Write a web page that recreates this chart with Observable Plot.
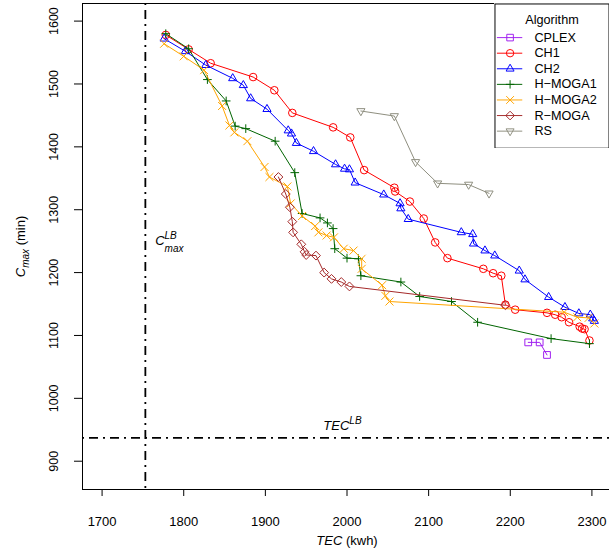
<!DOCTYPE html>
<html><head><meta charset="utf-8">
<script src="https://cdn.jsdelivr.net/npm/d3@7"></script>
<script src="https://cdn.jsdelivr.net/npm/@observablehq/plot@0.6"></script>
<style>
html,body{margin:0;padding:0;background:#fff;overflow:hidden;}
#wrap{position:relative;width:609px;height:552px;overflow:hidden;}
#legend{position:absolute;left:494px;top:3px;}
</style></head><body><div id="wrap"><div id="chart"></div><div id="legend"></div></div>
<script>
// ---- data ----
const algorithms = ["CPLEX","CH1","CH2","H-MOGA1","H-MOGA2","R-MOGA","RS"];
const legendLabels = ["CPLEX","CH1","CH2","H\u2212MOGA1","H\u2212MOGA2","R\u2212MOGA","RS"];
const xTicks = [1700,1800,1900,2000,2100,2200,2300];
const yTicks = [900,1000,1100,1200,1300,1400,1500,1600];
const tecLB = 1753;
const cmaxLB = 937;

const cplexTEC  = [2222, 2236, 2245];
const cplexCmax = [1089, 1089, 1069];

const ch1TEC  = [1778,1806,1833,1885,1911,1933,1983,2004,2021,2058,2059,2077,2094,2108,2123,2167,2179,2189,2194,2206,2245,2255,2263,2272,2285,2288,2291,2297];
const ch1Cmax = [1578,1555,1533,1511,1490,1454,1431,1415,1363,1335,1329,1313,1286,1248,1223,1206,1199,1195,1149,1141,1136,1133,1129,1121,1114,1111,1110,1092];

const ch2TEC  = [1776,1802,1827,1860,1873,1882,1902,1928,1932,1938,1959,1986,1997,2003,2010,2045,2065,2066,2075,2140,2154,2155,2169,2181,2211,2218,2247,2267,2284,2298,2301,2303];
const ch2Cmax = [1572,1552,1530,1509,1498,1477,1460,1426,1421,1406,1393,1372,1365,1364,1343,1324,1310,1302,1285,1264,1261,1246,1235,1227,1203,1189,1161,1145,1135,1133,1127,1123];

const hmoga1TEC  = [1778,1806,1829,1852,1863,1876,1912,1936,1945,1967,1976,1983,1985,2000,2014,2017,2066,2089,2128,2160,2250,2297];
const hmoga1Cmax = [1580,1556,1507,1473,1433,1429,1409,1359,1294,1287,1279,1270,1238,1223,1222,1195,1185,1162,1154,1121,1095,1087];

const hmoga2TEC  = [1776,1800,1825,1847,1856,1862,1878,1899,1905,1927,1931,1945,1961,1965,1975,1984,1996,2008,2018,2018,2043,2047,2052,2266,2282,2296,2303];
const hmoga2Cmax = [1564,1544,1522,1465,1434,1423,1409,1368,1352,1337,1310,1290,1274,1264,1259,1256,1238,1235,1222,1206,1180,1163,1154,1137,1129,1128,1119];

const rmogaTEC  = [1916,1925,1930,1933,1934,1944,1948,1950,1962,1972,1981,1993,2003,2194];
const rmogaCmax = [1352,1325,1304,1281,1264,1245,1233,1228,1227,1200,1190,1185,1178,1148];

const rsTEC  = [2017,2058,2084,2111,2149,2174];
const rsCmax = [1457,1449,1376,1342,1340,1326];

// annotation anchors (data coordinates)
const cLabelPos = [{tec: 1765, cmax: 1250}];
const tecLabelPos = [{tec: 1971, cmax: 957}];

// ---- styles ----
const invTriangle = {
  draw(context, size) {
    const s = Math.sqrt(size) * 0.6824, t = s / 2, u = s * Math.sqrt(3) / 2;
    context.moveTo(0, s); context.lineTo(u, -t); context.lineTo(-u, -t); context.closePath();
  }
};
const style = {
  "CPLEX":   {color: "#a020f0", symbol: "square2",  r: 4.3},
  "CH1":     {color: "#ff0000", symbol: "circle",   r: 3.8},
  "CH2":     {color: "#0000ff", symbol: "triangle2",r: 3.9},
  "H-MOGA1": {color: "#006400", symbol: "plus",     r: 2.9},
  "H-MOGA2": {color: "#ffa500", symbol: "times",    r: 3.7},
  "R-MOGA":  {color: "#a52a2a", symbol: "diamond2", r: 4.0},
  "RS":      {color: "#8f8f80", symbol: invTriangle,r: 3.9}
};
const seriesData = {
  "CPLEX": [cplexTEC, cplexCmax], "CH1": [ch1TEC, ch1Cmax], "CH2": [ch2TEC, ch2Cmax],
  "H-MOGA1": [hmoga1TEC, hmoga1Cmax], "H-MOGA2": [hmoga2TEC, hmoga2Cmax],
  "R-MOGA": [rmogaTEC, rmogaCmax], "RS": [rsTEC, rsCmax]
};
const rows = algorithms.flatMap(a => seriesData[a][0].map((x, i) => ({algo: a, tec: x, cmax: seriesData[a][1][i]})));

const fontFamily = "'Liberation Sans', Arial, Helvetica, sans-serif";
const dashStyle = {stroke: "#000", strokeWidth: 1.8, strokeDasharray: "2,5,9,5"};

const marks = [
  Plot.ruleX([tecLB], dashStyle),
  Plot.ruleY([cmaxLB], dashStyle)
];
for (const a of algorithms) {
  const d = rows.filter(r => r.algo === a);
  const s = style[a];
  marks.push(Plot.line(d, {x: "tec", y: "cmax", stroke: s.color, strokeWidth: 1}));
  marks.push(Plot.dot(d, {x: "tec", y: "cmax", symbol: s.symbol, r: s.r, stroke: s.color, fill: "none", strokeWidth: 1}));
}
marks.push(
  Plot.frame({stroke: "#000", strokeWidth: 1}),
  Plot.axisX({ticks: xTicks, tickSize: 7, tickPadding: 20, fontSize: 13, label: null, tickFormat: d => String(d)}),
  Plot.axisY({ticks: yTicks, tickSize: 8, tickFormat: () => "", label: null}),
  Plot.text(yTicks, {y: d => d, text: d => String(d), frameAnchor: "left", textAnchor: "middle", lineAnchor: "middle", dx: -29, rotate: -90, fontSize: 12.5}),
  Plot.text(["@XT"], {frameAnchor: "bottom", textAnchor: "middle", lineAnchor: "middle", dy: 51, text: d => d, fontSize: 13}),
  Plot.text(["@YT"], {frameAnchor: "left", textAnchor: "middle", lineAnchor: "middle", dx: -62, rotate: -90, text: d => d, fontSize: 13}),
  Plot.text(cLabelPos, {x: "tec", y: "cmax", text: () => "@CL", textAnchor: "start", fontSize: 13}),
  Plot.text(tecLabelPos, {x: "tec", y: "cmax", text: () => "@TL", textAnchor: "start", fontSize: 13})
);

const chart = Plot.plot({
  width: 609, height: 552,
  marginLeft: 82, marginRight: -2, marginTop: 3, marginBottom: 63,
  x: {domain: [1676, 2324]},
  y: {domain: [855, 1628]},
  style: {fontFamily, fontSize: "13px", color: "#000", background: "#fff", overflow: "hidden"},
  marks
});
document.getElementById("chart").appendChild(chart);

// rich text (italic / super / subscripts)
const NS = "http://www.w3.org/2000/svg";
function rich(svg, key, parts) {
  svg.querySelectorAll("text").forEach(t => {
    if (t.textContent !== key) return;
    t.textContent = "";
    const made = [];
    for (const p of parts) {
      const ts = document.createElementNS(NS, "tspan");
      ts.textContent = p.t;
      if (p.italic) ts.setAttribute("font-style", "italic");
      if (p.size) ts.setAttribute("font-size", p.size);
      if (p.dy) ts.setAttribute("dy", p.dy);
      t.appendChild(ts);
      made.push(ts);
    }
    parts.forEach((p, i) => {
      if (p.back != null) {
        const w = made[p.back].getComputedTextLength();
        made[i].setAttribute("dx", -w);
      }
    });
  });
}
rich(chart, "@XT", [{t: "TEC", italic: true}, {t: " (kwh)"}]);
rich(chart, "@YT", [{t: "C", italic: true}, {t: "max", italic: true, size: 10, dy: 4}, {t: " (min)", dy: -4}]);
rich(chart, "@CL", [{t: "C", italic: true}, {t: "LB", italic: true, size: 10, dy: -6}, {t: "max", italic: true, size: 10, dy: 13, back: 1}]);
rich(chart, "@TL", [{t: "TEC", italic: true}, {t: "LB", italic: true, size: 10, dy: -6}]);

// ---- legend ----
const legendMarks = [
  Plot.frame({stroke: "#000", strokeWidth: 1, inset: 0.5}),
  Plot.text(["Algorithm"], {frameAnchor: "top", dy: 12, text: d => d, fontSize: 13})
];
algorithms.forEach((a, i) => {
  const s = style[a];
  legendMarks.push(
    Plot.ruleY([a], {y: d => d, x1: 0, x2: 1, stroke: s.color, strokeWidth: 1}),
    Plot.dot([a], {x: 0.5, y: d => d, symbol: s.symbol, r: s.r, stroke: s.color, fill: "none", strokeWidth: 1}),
    Plot.text([legendLabels[i]], {x: 1, y: () => a, text: d => d, textAnchor: "start", dx: 12, fontSize: 13})
  );
});
const legend = Plot.plot({
  width: 118, height: 149, margin: 0,
  x: {domain: [0, 1], range: [3, 29], axis: null},
  y: {type: "point", domain: algorithms, range: [33, 133], padding: 0, axis: null},
  style: {fontFamily, fontSize: "13px", color: "#000", background: "#fff"},
  marks: legendMarks
});
document.getElementById("legend").appendChild(legend);
</script></body></html>
